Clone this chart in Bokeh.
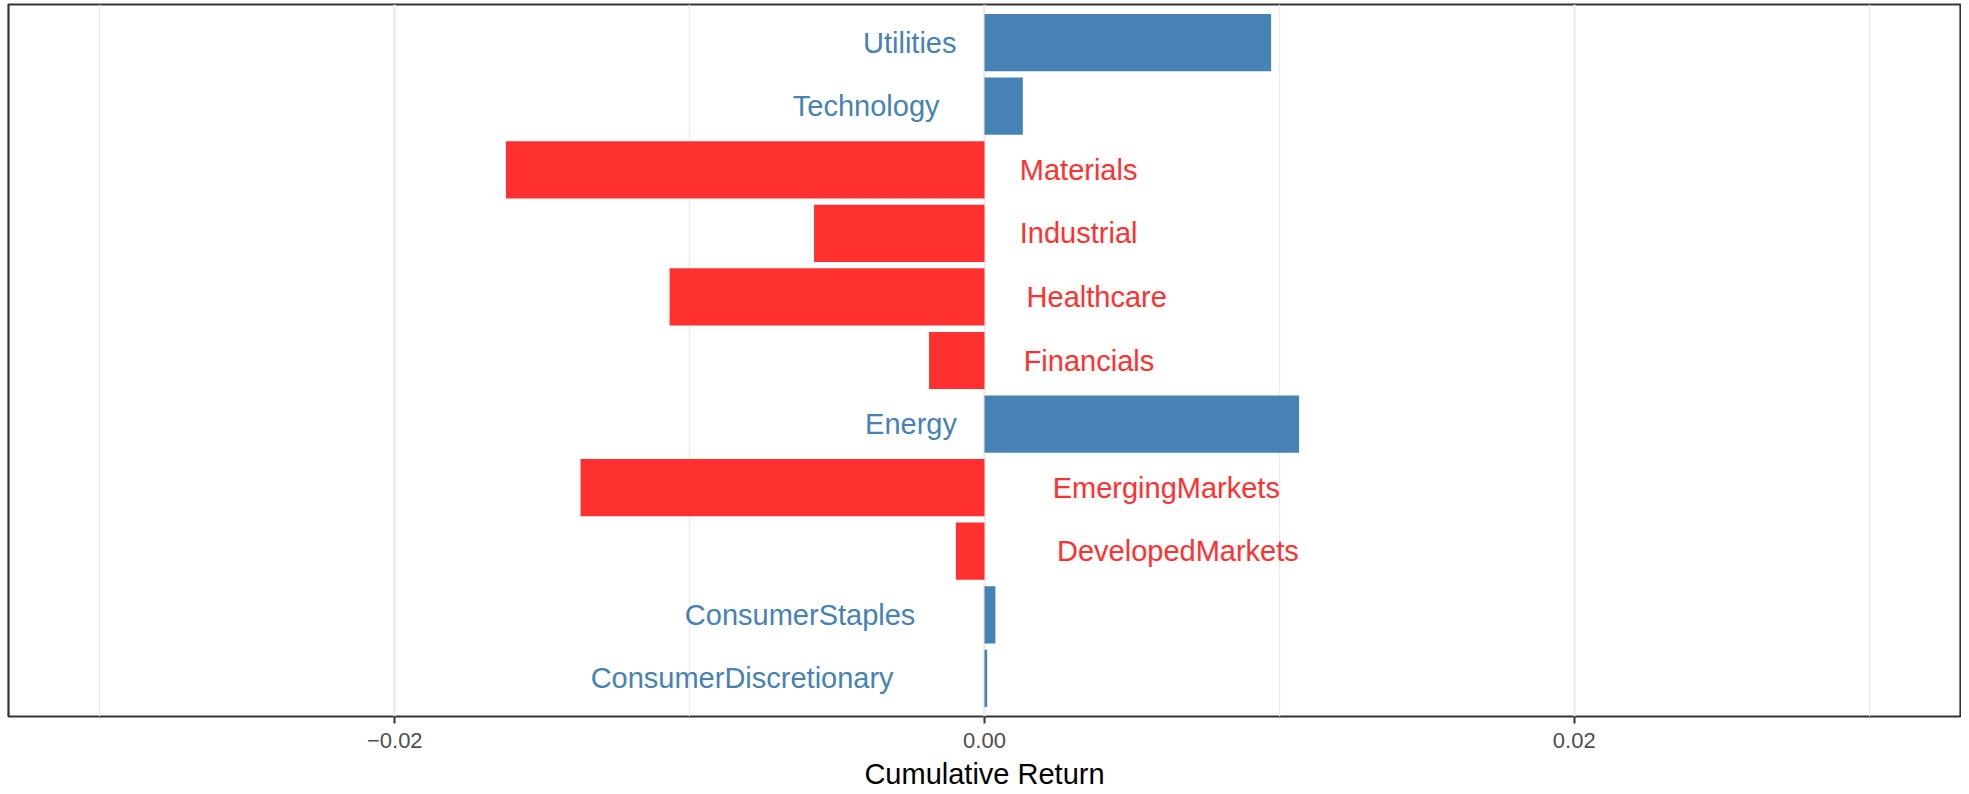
from bokeh.plotting import figure
from bokeh.models import ColumnDataSource, Range1d, FixedTicker, CustomJSTickFormatter
from bokeh.embed import file_html
from bokeh.resources import INLINE
from bokeh.core.properties import value

# ---- data (bottom to top) ----
categories = ["ConsumerDiscretionary", "ConsumerStaples", "DevelopedMarkets",
              "EmergingMarkets", "Energy", "Financials", "Healthcare",
              "Industrial", "Materials", "Technology", "Utilities"]
returns = [0.00009, 0.00037, -0.00097, -0.01370, 0.01067, -0.00188,
           -0.01068, -0.00578, -0.01623, 0.00130, 0.00972]
tick_values = [-0.02, 0.0, 0.02]
minor_tick_values = [-0.03, -0.01, 0.01, 0.03]
tick_labels = ["\u22120.02", "0.00", "0.02"]
x_title = "Cumulative Return"

POS = "#4682B4"
NEG = "#FF3030"
FONT = "Liberation Sans"
LABEL_PX = 29

# Arial / Liberation Sans advance widths (per 1000 em) to emulate ggplot hjust
AW = {"A": 667, "B": 667, "C": 722, "D": 722, "E": 667, "F": 611, "H": 722,
      "I": 278, "M": 833, "R": 722, "S": 667, "T": 611, "U": 722,
      "a": 556, "b": 556, "c": 500, "d": 556, "e": 556, "f": 278, "g": 556,
      "h": 556, "i": 222, "k": 500, "l": 222, "m": 833, "n": 556, "o": 556,
      "p": 556, "r": 333, "s": 500, "t": 278, "u": 556, "v": 500, "y": 500}


def text_width(s):
    return sum(AW.get(ch, 556) for ch in s) / 1000.0 * LABEL_PX


ypos = list(range(len(categories)))
colors = [POS if r >= 0 else NEG for r in returns]

bars = ColumnDataSource(dict(y=ypos, ret=returns, color=colors, cat=categories))

pos_idx = [i for i, r in enumerate(returns) if r >= 0]
neg_idx = [i for i, r in enumerate(returns) if r < 0]
pos_src = ColumnDataSource(dict(
    y=[ypos[i] for i in pos_idx],
    cat=[categories[i] for i in pos_idx],
    xoff=[-0.3 * text_width(categories[i]) for i in pos_idx]))
neg_src = ColumnDataSource(dict(
    y=[ypos[i] for i in neg_idx],
    cat=[categories[i] for i in neg_idx],
    xoff=[0.3 * text_width(categories[i]) for i in neg_idx]))

p = figure(width=1961, height=792, output_backend="svg", toolbar_location=None,
           x_range=Range1d(-0.0331, 0.0331),
           y_range=Range1d(-0.6, len(categories) - 0.4),
           min_border_left=8, min_border_right=1, min_border_top=4,
           min_border_bottom=73)

p.background_fill_color = "white"
p.border_fill_color = "white"
p.outline_line_color = "#333333"
p.outline_line_width = 2.2

p.hbar(y="y", left=0, right="ret", height=0.9, fill_color="color",
       line_color=None, source=bars)

p.text(x=0, y="y", text="cat", x_offset="xoff", source=pos_src,
       text_align="right", text_baseline="middle", text_color=POS,
       text_font=value(FONT), text_font_size=f"{LABEL_PX}px")
p.text(x=0, y="y", text="cat", x_offset="xoff", source=neg_src,
       text_align="left", text_baseline="middle", text_color=NEG,
       text_font=value(FONT), text_font_size=f"{LABEL_PX}px")

ticker = FixedTicker(ticks=tick_values, minor_ticks=minor_tick_values)
p.xaxis.ticker = ticker
p.xaxis.formatter = CustomJSTickFormatter(
    args=dict(vals=tick_values, labs=tick_labels),
    code="""
    for (let i = 0; i < vals.length; i++) {
        if (Math.abs(vals[i] - tick) < 1e-9) return labs[i];
    }
    return tick.toFixed(2);
    """)
p.xaxis.axis_label = x_title
p.xaxis.axis_label_text_font = FONT
p.xaxis.axis_label_text_font_size = "29px"
p.xaxis.axis_label_text_font_style = "normal"
p.xaxis.axis_label_text_color = "black"
p.xaxis.axis_label_standoff = 7
p.xaxis.major_label_text_font = FONT
p.xaxis.major_label_text_font_size = "22px"
p.xaxis.major_label_text_color = "#4D4D4D"
p.xaxis.major_label_standoff = 9
p.xaxis.axis_line_color = None
p.xaxis.major_tick_line_color = "#333333"
p.xaxis.major_tick_line_width = 2
p.xaxis.major_tick_out = 7
p.xaxis.major_tick_in = 0
p.xaxis.minor_tick_line_color = None

p.yaxis.visible = False
p.ygrid.visible = False

p.xgrid.ticker = ticker
p.xgrid.grid_line_color = "#EBEBEB"
p.xgrid.grid_line_width = 2.5
p.xgrid.minor_grid_line_color = "#EBEBEB"
p.xgrid.minor_grid_line_width = 1.3

open("out.html", "w").write(file_html(p, INLINE))
